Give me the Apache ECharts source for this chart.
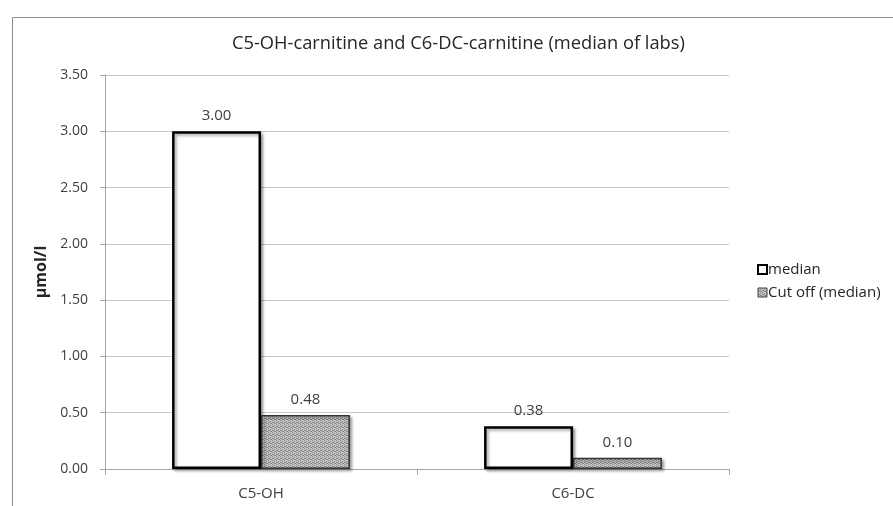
<!DOCTYPE html>
<html>
<head>
<meta charset="utf-8">
<script src="https://cdn.jsdelivr.net/npm/echarts@6/dist/echarts.min.js"></script>
<style>html,body{margin:0;padding:0;background:#fff}#c{width:893px;height:506px}</style>
</head>
<body>
<div id="c"></div>
<script>
const titleText = 'C5-OH-carnitine and C6-DC-carnitine (median of labs)';
const categories = ['C5-OH', 'C6-DC'];
const medianValues = [3.00, 0.38];
const cutoffValues = [0.48, 0.10];
const seriesNames = ['median', 'Cut off (median)'];
const yAxisName = 'µmol/l';

const FONT = 'Open Sans';

function makePattern() {
  const c = document.createElement('canvas');
  c.width = 4; c.height = 4;
  const g = c.getContext('2d');
  g.fillStyle = '#c4c4c4';
  g.fillRect(0, 0, 4, 4);
  g.fillStyle = '#858585';
  const pts = [[0,0],[2,1],[1,2],[3,3],[2,3],[0,2]];
  pts.forEach(p => g.fillRect(p[0], p[1], 1, 1));
  return c;
}
const pat = { image: makePattern(), repeat: 'repeat' };

const chart = echarts.init(document.getElementById('c'), null, { renderer: 'canvas' });
const shadow = { shadowBlur: 3, shadowOffsetX: 2, shadowOffsetY: 2, shadowColor: 'rgba(0,0,0,0.35)' };

chart.setOption({
  animation: false,
  backgroundColor: '#fff',
  textStyle: { fontFamily: FONT },
  graphic: [{
    type: 'rect', left: 10, top: 15, shape: { width: 900, height: 520 },
    style: { fill: 'none', stroke: '#8c8c8c', lineWidth: 1 }, silent: true, z: -1
  }],
  title: {
    text: titleText, left: 227, top: 30,
    textStyle: { fontFamily: FONT, fontSize: 18.3, fontWeight: 'normal', color: '#262626' }
  },
  legend: {
    orient: 'vertical', left: 752, top: 257, itemGap: 8,
    itemWidth: 9, itemHeight: 9,
    textStyle: { fontFamily: FONT, fontSize: 15, lineHeight: 15, color: '#262626', padding: [0,0,0,-4] },
    data: [
      { name: seriesNames[0], icon: 'rect', itemStyle: { color: '#fff', borderColor: '#000', borderWidth: 2 } },
      { name: seriesNames[1], icon: 'rect', itemStyle: { color: pat, borderColor: '#404040', borderWidth: 1 } }
    ]
  },
  grid: { left: 105, right: 164, top: 75, bottom: 37, containLabel: false },
  xAxis: {
    type: 'category', data: categories,
    axisLine: { lineStyle: { color: '#a6a6a6', width: 1 } },
    axisTick: { show: true, length: 6, lineStyle: { color: '#a6a6a6' } },
    axisLabel: { fontFamily: FONT, fontSize: 15, color: '#404040', margin: 17 },
    splitLine: { show: false }
  },
  yAxis: {
    type: 'value', min: 0, max: 3.5, interval: 0.5,
    name: yAxisName, nameLocation: 'middle', nameGap: 55, nameRotate: 90,
    nameTextStyle: { fontFamily: FONT, fontSize: 16, fontWeight: 'bold', color: '#262626' },
    axisLine: { show: true, lineStyle: { color: '#a6a6a6' } },
    axisTick: { show: true, length: 5, lineStyle: { color: '#a6a6a6' } },
    axisLabel: { fontFamily: FONT, fontSize: 14, color: '#404040', margin: 17, formatter: v => v.toFixed(2) },
    splitLine: { show: true, lineStyle: { color: '#c8c8c8', width: 1 } }
  },
  series: [
    {
      name: seriesNames[0], type: 'bar', data: medianValues,
      barGap: '0%', barCategoryGap: '43%',
      itemStyle: Object.assign({ color: '#fff', borderColor: '#000', borderWidth: 2.5 }, shadow),
      label: { show: true, position: 'top', distance: 8, fontFamily: FONT, fontSize: 15, color: '#404040', formatter: p => p.value.toFixed(2) }
    },
    {
      name: seriesNames[1], type: 'bar', data: cutoffValues,
      barGap: '0%', barCategoryGap: '43%',
      itemStyle: Object.assign({ color: pat, borderColor: '#333', borderWidth: 1.5 }, shadow),
      label: { show: true, position: 'top', distance: 8, fontFamily: FONT, fontSize: 15, color: '#404040', formatter: p => p.value.toFixed(2) }
    }
  ]
});
</script>
</body>
</html>
